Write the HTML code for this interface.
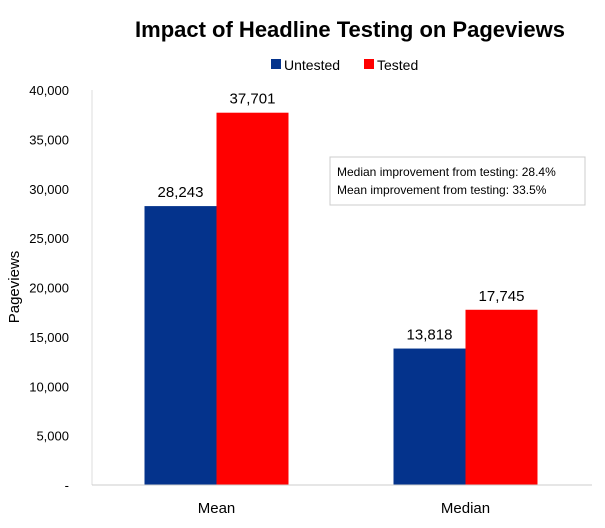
<!DOCTYPE html>
<html><head><meta charset="utf-8"><style>
body{margin:0;background:#fff;font-family:"Liberation Sans",sans-serif;}
svg text{font-family:"Liberation Sans",sans-serif;}
</style></head><body>
<svg id="c" width="605" height="523">
<text x="350" y="37" text-anchor="middle" font-size="22" font-weight="bold" fill="#000">Impact of Headline Testing on Pageviews</text>
<g>
<rect x="271" y="59" width="10" height="10" fill="#04338c"/>
<text x="284" y="70" font-size="14">Untested</text>
<rect x="364" y="59" width="10" height="10" fill="#ff0000"/>
<text x="377" y="70" font-size="14">Tested</text>
</g>
<text transform="translate(19,287) rotate(-90)" text-anchor="middle" font-size="15">Pageviews</text>
<g id="yticks"></g>
<g id="bars"></g>
<line x1="92" y1="90" x2="92" y2="485" stroke="#ddd"/>
<line x1="92" y1="485" x2="592" y2="485" stroke="#ccc"/>
<g>
<rect x="330" y="157" width="255" height="48" fill="#fff" stroke="#ccc"/>
<text x="337" y="176" font-size="12">Median improvement from testing: 28.4%</text>
<text x="337" y="194" font-size="12">Mean improvement from testing: 33.5%</text>
</g>
</svg>
<script>
const categories=["Mean","Median"];
const untested=[28243,13818];
const tested=[37701,17745];
const yTicks=[0,5000,10000,15000,20000,25000,30000,35000,40000];
const NS="http://www.w3.org/2000/svg";
const y0=485,yTop=90,maxV=40000;
function y(v){return y0-(v/maxV)*(y0-yTop);}
const x0=92,x1=590;
function xc(i){return x0+(x1-x0)*(i+0.5)/categories.length;}
const bw=72;
function mk(t,a,p){const e=document.createElementNS(NS,t);for(const k in a)e.setAttribute(k,a[k]);p.appendChild(e);return e;}
const yt=document.getElementById('yticks');
yTicks.forEach(v=>{
 const t=mk('text',{x:69,y:y(v)+5,'text-anchor':'end','font-size':13},yt);
 
 
 t.textContent=v===0?'-':v.toLocaleString('en-US');
});
const bg=document.getElementById('bars');
categories.forEach((c,i)=>{
 const cx=xc(i);
 [[untested,'#04338c',-1,'untested'],[tested,'#ff0000',0,'tested']].forEach(([arr,col,off,nm])=>{
  const bx=cx+off*bw;
  const r=mk('rect',{x:bx,y:y(arr[i]),width:bw,height:y0-y(arr[i]),fill:col},bg);
  
  
  const l=mk('text',{x:bx+bw/2,y:y(arr[i])-9,'text-anchor':'middle','font-size':15},bg);
  
  
  l.textContent=arr[i].toLocaleString('en-US');
 });
 const xl=mk('text',{x:cx,y:513,'text-anchor':'middle','font-size':15},bg);
 
 
 xl.textContent=c;
});
</script>
</body></html>
